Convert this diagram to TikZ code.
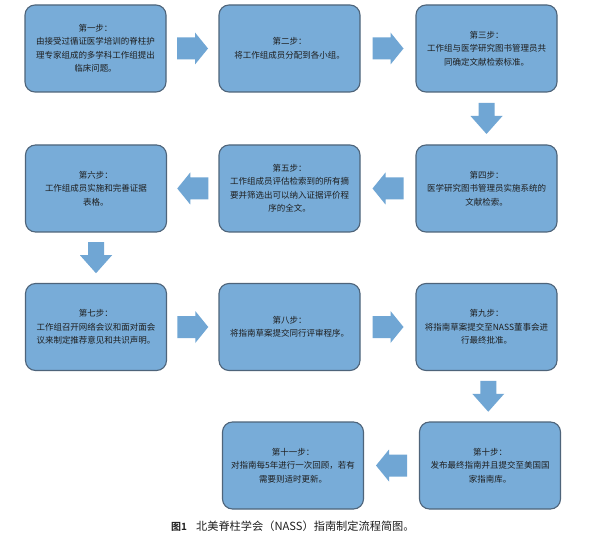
\documentclass[tikz,border=0pt]{standalone}
\usepackage{fontspec}
\newfontfamily\cjk{Noto Sans CJK SC}
\newfontfamily\cjkb{Noto Sans CJK SC Bold}
\usetikzlibrary{calc}
\definecolor{boxblue}{RGB}{120,172,216}
\definecolor{boxedge}{RGB}{78,100,122}
\definecolor{arrblue}{RGB}{112,166,212}
\definecolor{txt}{RGB}{30,30,30}
\tikzset{
  stepbox/.style={draw=boxedge, line width=1.1pt, fill=boxblue, rounded corners=10pt,
    minimum width=141pt, minimum height=87pt, inner sep=2pt, align=center,
    text=txt, font=\cjk\fontsize{8.5}{13.5}\selectfont},
  rarr/.pic={\fill[arrblue] (-15.5,-11) -- (2.5,-11) -- (2.5,-16) -- (15.5,0) -- (2.5,16) -- (2.5,11) -- (-15.5,11) -- cycle;},
  darr/.pic={\fill[arrblue] (-8,-15.5) -- (8,-15.5) -- (8,-2.5) -- (16,-2.5) -- (0,15.5) -- (-16,-2.5) -- (-8,-2.5) -- cycle;}
}
\begin{document}
\begin{tikzpicture}[x=1pt,y=-1pt]
\useasboundingbox[fill=white] (0,0) rectangle (600,548);
% row 1
\node[stepbox] (b1) at (95.5,48.5) {第一步：\\由接受过循证医学培训的脊柱护\\理专家组成的多学科工作组提出\\临床问题。};
\node[stepbox] (b2) at (289.5,48.5) {第二步：\\将工作组成员分配到各小组。};
\node[stepbox] (b3) at (486.5,48.5) {第三步：\\工作组与医学研究图书管理员共\\同确定文献检索标准。};
% row 2
\node[stepbox] (b6) at (96,188.5) {第六步：\\工作组成员实施和完善证据\\表格。};
\node[stepbox] (b5) at (289.5,188.5) {第五步：\\工作组成员评估检索到的所有摘\\要并筛选出可以纳入证据评价程\\序的全文。};
\node[stepbox] (b4) at (486.5,188.5) {第四步：\\医学研究图书管理员实施系统的\\文献检索。};
% row 3
\node[stepbox] (b7) at (96,327) {第七步：\\工作组召开网络会议和面对面会\\议来制定推荐意见和共识声明。};
\node[stepbox] (b8) at (289.5,327) {第八步：\\将指南草案提交同行评审程序。};
\node[stepbox] (b9) at (486.5,327) {第九步：\\将指南草案提交至NASS董事会进\\行最终批准。};
% row 4
\node[stepbox] (b10) at (490,465.5) {第十步：\\发布最终指南并且提交至美国国\\家指南库。};
\node[stepbox] (b11) at (293,465.5) {第十一步：\\对指南每5年进行一次回顾，若有\\需要则适时更新。};
% arrows
\path ($(b1.east)!0.5!(b2.west)$) pic {rarr};
\path ($(b2.east)!0.5!(b3.west)$) pic {rarr};
\path ($(b3.south)!0.5!(b4.north)$) pic {darr};
\path ($(b4.west)!0.5!(b5.east)$) pic[rotate=180] {rarr};
\path ($(b5.west)!0.5!(b6.east)$) pic[rotate=180] {rarr};
\path ($(b6.south)!0.5!(b7.north)$) pic {darr};
\path ($(b7.east)!0.5!(b8.west)$) pic {rarr};
\path ($(b8.east)!0.5!(b9.west)$) pic {rarr};
\path ($(b9.south)!0.5!(b10.north)$) pic {darr};
\path ($(b10.west)!0.5!(b11.east)$) pic[rotate=180] {rarr};
% caption
\node[anchor=west, inner sep=0pt, text=txt, font=\cjk\fontsize{11.2}{13}\selectfont] (cap) at (171,526)
  {{\cjkb\fontsize{10}{12}\selectfont 图1}\hspace{9pt}北美脊柱学会（NASS）指南制定流程简图。};
\end{tikzpicture}
\end{document}
